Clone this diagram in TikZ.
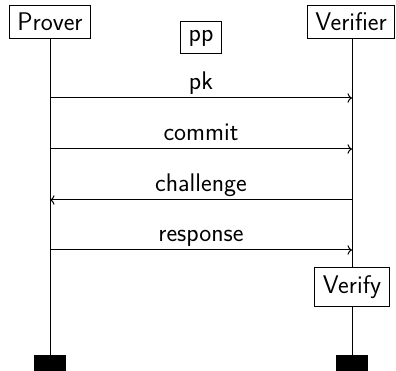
\documentclass[tikz,border=0pt]{standalone}
\usetikzlibrary{arrows.meta}
\begin{document}
\begin{tikzpicture}[x=1pt,y=-1pt,line width=1pt,
  every node/.style={font=\sffamily\fontsize{25.5}{30}\selectfont},
  actor/.style={draw,fill=white,minimum height=33pt,inner xsep=8pt,inner ysep=0pt},
  endbar/.style={fill=black,minimum width=32pt,minimum height=16pt,inner sep=0pt},
  msg/.style={-{To[length=4.5pt,width=9.5pt]}},
  lbl/.style={anchor=base,yshift=8pt,inner sep=0pt}]
\useasboundingbox (0,0) rectangle (396,371);
% end bars
\node[endbar] (pend) at (50,363) {};
\node[endbar] (vend) at (352,363) {};
% actors
\node[actor] (prover) at (50,22) {Prover};
\node[actor] (verifier) at (351,22) {Verifier};
% lifelines
\draw (prover.south) -- (pend.north);
\draw (verifier.south -| vend.north) -- (vend.north);
% public parameters
\node[actor,minimum height=32pt] (pp) at (201,38) {pp};
% verify box
\node[actor,minimum height=38pt] (verify) at (352,287) {Verify};
% message points
\coordinate (p1) at (50,98);  \coordinate (v1) at (352,98);
\coordinate (p2) at (50,149); \coordinate (v2) at (352,149);
\coordinate (p3) at (50,200); \coordinate (v3) at (352,200);
\coordinate (p4) at (50,250); \coordinate (v4) at (352,250);
\draw[msg] (p1) -- node[lbl] {pk} (v1);
\draw[msg] (p2) -- node[lbl] {commit} (v2);
\draw[msg] (v3) -- node[lbl] {challenge} (p3);
\draw[msg] (p4) -- node[lbl] {response} (v4);
\end{tikzpicture}
\end{document}
